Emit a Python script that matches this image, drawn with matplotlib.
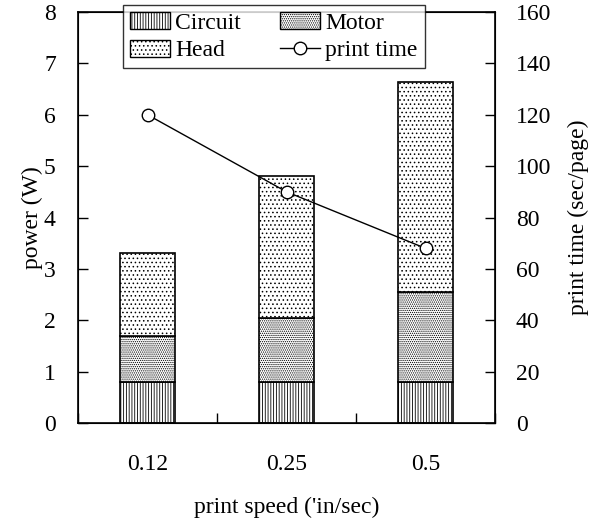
import matplotlib
matplotlib.use("Agg")
import matplotlib.pyplot as plt
import numpy as np
from matplotlib.lines import Line2D
from matplotlib.patches import Patch

plt.rcParams['font.family'] = ['Liberation Serif', 'DejaVu Serif']
plt.rcParams['hatch.linewidth'] = 0.6

categories = ['0.12', '0.25', '0.5']
circuit = [0.8, 0.8, 0.8]
motor = [0.9, 1.25, 1.75]
head = [1.6, 2.75, 4.08]
print_time = [120, 90, 68]

FS = 17
fig = plt.figure(figsize=(5.97, 5.18), dpi=100)
ax = fig.add_axes([0.1307, 0.1834, 0.6985, 0.7934])

x = np.arange(len(categories)) + 0.5
w = 0.4
ec = 'black'
b1 = ax.bar(x, circuit, w, color='white', edgecolor=ec, linewidth=1.2, hatch='||||||')
bottom2 = np.array(circuit)
b2 = ax.bar(x, motor, w, bottom=bottom2, color='white', edgecolor=ec, linewidth=1.2, hatch='........')
bottom3 = bottom2 + np.array(motor)
b3 = ax.bar(x, head, w, bottom=bottom3, color='white', edgecolor=ec, linewidth=1.2, hatch='....')

ax.set_xlim(0, 3)
ax.set_ylim(0, 8)
ax.set_yticks(range(0, 9))
ax.set_xticks([0, 1, 2, 3])
ax.set_xticklabels([])
ax.set_xticks(x, minor=True)
ax.set_xticklabels(categories, minor=True)
ax.tick_params(axis='x', which='major', direction='in', length=7, width=1)
ax.tick_params(axis='x', which='minor', length=0, pad=22, labelsize=FS)
ax.tick_params(axis='y', direction='in', length=7, width=1, pad=16, labelsize=FS)
for s in ax.spines.values():
    s.set_linewidth(1.2)
ax.set_ylabel('power (W)', fontsize=FS, labelpad=1)
ax.set_xlabel("print speed ('in/sec)", fontsize=FS, labelpad=16)

ax2 = ax.twinx()
ax2.set_ylim(0, 160)
ax2.set_yticks(range(0, 161, 20))
ax2.tick_params(axis='y', direction='in', length=7, width=1, pad=15, labelsize=FS)
ln, = ax2.plot(x, print_time, color='black', linewidth=1.0, marker='o', markersize=9,
               markerfacecolor='white', markeredgecolor='black', markeredgewidth=1.0)
ax2.set_ylabel('print time (sec/page)', fontsize=FS, labelpad=12)

handles = [Patch(facecolor='white', edgecolor=ec, hatch='||||||', label='Circuit'),
           Patch(facecolor='white', edgecolor=ec, hatch='....', label='Head'),
           Patch(facecolor='white', edgecolor=ec, hatch='........', label='Motor'),
           Line2D([], [], color='black', marker='o', markersize=9, markerfacecolor='white',
                  linewidth=1.0, label='print time')]
leg = ax2.legend(handles=handles, ncol=2, loc='upper left',
                 bbox_to_anchor=(0.108, 1.017),
                 frameon=True, fancybox=False, edgecolor='black', fontsize=FS,
                 handlelength=1.7, handleheight=0.72, handletextpad=0.2,
                 borderpad=0.3, labelspacing=0.25, columnspacing=1.67,
                 borderaxespad=0)
leg.get_frame().set_linewidth(1.0)

fig.savefig('out.png', dpi=100)
